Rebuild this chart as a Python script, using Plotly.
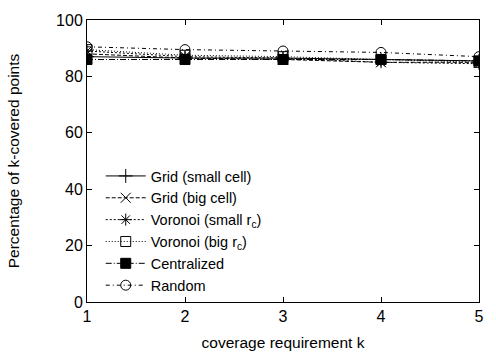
import plotly.graph_objects as go

k = [1, 2, 3, 4, 5]
grid_small = [87.0, 86.5, 86.5, 86.0, 85.5]
grid_big = [88.0, 86.5, 86.0, 85.0, 85.0]
voronoi_small = [89.0, 87.0, 86.5, 85.0, 84.5]
voronoi_big = [89.5, 87.5, 87.0, 86.0, 85.0]
centralized = [86.0, 86.0, 86.0, 86.0, 85.5]
random_ = [90.5, 89.5, 89.0, 88.5, 87.0]

names = ["Grid (small cell)", "Grid (big cell)", "Voronoi (small r<sub>c</sub>)",
         "Voronoi (big r<sub>c</sub>)", "Centralized", "Random"]
series = [grid_small, grid_big, voronoi_small, voronoi_big, centralized, random_]
dashes = ["solid", "4px,2px", "2px,2px", "1px,2px", "6px,2px,1px,2px", "4px,3px,1px,3px"]
symbols = ["cross-thin-open", "x-thin-open", "asterisk-open", "square-open", "square", "circle-open"]

FONT = "Liberation Sans, Arial"

fig = go.Figure()
for n, s, d, sym in zip(names, series, dashes, symbols):
    fig.add_trace(go.Scatter(
        x=k, y=s, name=n, mode="lines+markers",
        line=dict(color="black", width=1, dash=d),
        marker=dict(symbol=sym, size=10, color="black",
                    line=dict(color="black", width=1)),
    ))

axis_common = dict(
    showline=True, linecolor="black", linewidth=1, mirror="ticks",
    ticks="inside", ticklen=5, tickcolor="black", showgrid=False, zeroline=False,
    tickfont=dict(family=FONT, size=16, color="black"),
)
fig.update_xaxes(range=[1, 5], dtick=1, title=dict(text="coverage requirement k",
                 font=dict(family=FONT, size=15.5, color="black"), standoff=12),
                 **axis_common)
fig.update_yaxes(range=[0, 100], dtick=20, title=dict(text="Percentage of k-covered points",
                 font=dict(family=FONT, size=15.5, color="black"), standoff=32),
                 **axis_common)

fig.update_layout(
    width=496, height=360,
    margin=dict(l=87, r=12, t=12, b=58),
    paper_bgcolor="white", plot_bgcolor="white",
    font=dict(family=FONT, size=14.5, color="black"),
    legend=dict(x=0.035, y=0.0, xanchor="left", yanchor="bottom",
                bgcolor="rgba(0,0,0,0)", font=dict(size=14.5),
                itemwidth=40, tracegroupgap=0),
)
fig.write_html("out.html")
